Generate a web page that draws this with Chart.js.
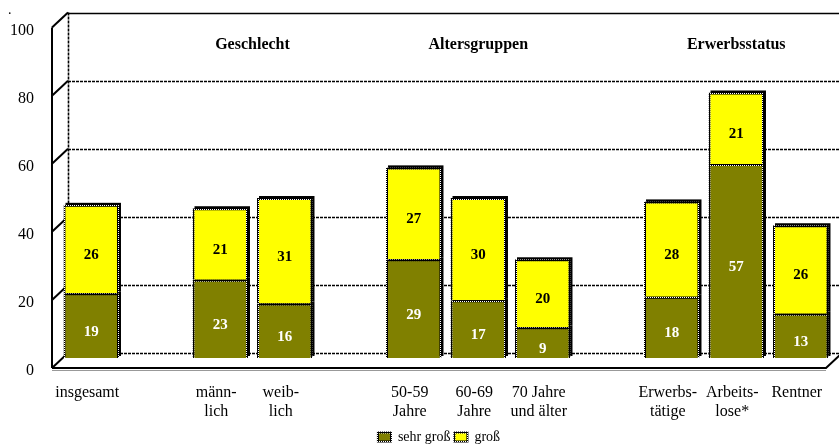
<!DOCTYPE html>
<html>
<head>
<meta charset="utf-8">
<script src="https://cdn.jsdelivr.net/npm/chart.js@4.4.1/dist/chart.umd.min.js"></script>
<style>
html,body{margin:0;padding:0;background:#fff;}
#wrap{width:839px;height:448px;}
</style>
</head>
<body>
<div id="wrap"><canvas id="c" width="839" height="448"></canvas></div>
<script>
// ---- data ----
const categories = ["insgesamt", "", ["männ-", "lich"], ["weib-", "lich"], "", ["50-59", "Jahre"], ["60-69", "Jahre"], ["70 Jahre", "und älter"], "", ["Erwerbs-", "tätige"], ["Arbeits-", "lose*"], "Rentner"];
const sehrGross = [19, null, 23, 16, null, 29, 17, 9, null, 18, 57, 13];
const gross = [26, null, 21, 31, null, 27, 30, 20, null, 28, 21, 26];
const seriesNames = ["sehr groß", "groß"];
const yTicks = [0, 20, 40, 60, 80, 100];
const groupTitles = ["Geschlecht", "Altersgruppen", "Erwerbsstatus"];
const groupCenters = [2.5, 6, 10];

// ---- styling helpers ----
function dotPattern() {
  const c = document.createElement('canvas');
  c.width = 2; c.height = 2;
  const x = c.getContext('2d');
  x.fillStyle = '#000'; x.fillRect(0, 0, 2, 2);
  x.fillStyle = '#fff'; x.fillRect(1, 1, 1, 1);
  return x.createPattern(c, 'repeat');
}
const dots = dotPattern();
const SERIF = '"Liberation Serif", "Times New Roman", serif';
const DEPTH_X = 16, DEPTH_Y = 15;   // back wall offset
const BAR_DX = 7, BAR_DY = -10;     // bars sit at mid depth

const frame3d = {
  id: 'frame3d',
  beforeDatasetsDraw(chart) {
    const ctx = chart.ctx, a = chart.chartArea, y = chart.scales.y;
    ctx.save();
    ctx.strokeStyle = '#000';
    ctx.lineWidth = 1.6;
    yTicks.forEach(v => {
      const py = Math.round(y.getPixelForValue(v)) - DEPTH_Y + 0.5;
      ctx.setLineDash(v === 100 ? [] : [3, 1]);
      ctx.beginPath();
      ctx.moveTo(a.left + DEPTH_X, py);
      ctx.lineTo(a.right + DEPTH_X + 20, py);
      ctx.stroke();
    });
    ctx.setLineDash([3, 1]);
    ctx.beginPath();
    ctx.moveTo(a.left + DEPTH_X + 0.5, y.getPixelForValue(100) - DEPTH_Y);
    ctx.lineTo(a.left + DEPTH_X + 0.5, y.getPixelForValue(0) - DEPTH_Y);
    ctx.stroke();
    ctx.setLineDash([]);
    ctx.lineWidth = 2;
    ctx.beginPath();
    ctx.moveTo(a.left, y.getPixelForValue(100));
    ctx.lineTo(a.left, y.getPixelForValue(0));
    ctx.stroke();
    yTicks.forEach(v => {
      const py = y.getPixelForValue(v);
      ctx.beginPath();
      ctx.moveTo(a.left, py);
      ctx.lineTo(a.left + DEPTH_X, py - DEPTH_Y);
      ctx.stroke();
    });
    const p0 = y.getPixelForValue(0);
    ctx.lineWidth = 2;
    ctx.beginPath();
    ctx.moveTo(a.left, p0);
    ctx.lineTo(a.right, p0);
    ctx.lineTo(a.right + DEPTH_X, p0 - DEPTH_Y);
    ctx.stroke();
    ctx.lineWidth = 1;
    ctx.strokeStyle = '#999';
    ctx.beginPath();
    ctx.moveTo(a.left, p0 + 2.5);
    ctx.lineTo(a.right, p0 + 2.5);
    ctx.stroke();
    ctx.fillStyle = '#000';
    ctx.font = '14px ' + SERIF;
    ctx.fillText('.', 8, 10);
    // bar side faces
    ctx.translate(BAR_DX, BAR_DY);
    ctx.fillStyle = '#000';
    chart.data.datasets.forEach((ds, i) => {
      chart.getDatasetMeta(i).data.forEach((el, j) => {
        if (ds.data[j] == null) return;
        const top = Math.min(el.y, el.base), bot = Math.max(el.y, el.base);
        ctx.fillRect(el.x - el.width / 2 + 2, top - 2, el.width, bot - top);
      });
    });
    ctx.restore();
    ctx.save();
    ctx.translate(BAR_DX, BAR_DY);
  },
  afterDatasetsDraw(chart) {
    const ctx = chart.ctx;
    ctx.restore();
    ctx.save();
    ctx.textAlign = 'center';
    ctx.textBaseline = 'middle';
    ctx.font = 'bold 15px ' + SERIF;
    chart.data.datasets.forEach((ds, i) => {
      chart.getDatasetMeta(i).data.forEach((el, j) => {
        const v = ds.data[j];
        if (v == null) return;
        ctx.fillStyle = i === 0 ? '#fff' : '#000';
        ctx.fillText(String(v), el.x + BAR_DX, (el.y + el.base) / 2 + BAR_DY + 6);
      });
    });
    const x = chart.scales.x, y = chart.scales.y;
    ctx.fillStyle = '#000';
    ctx.font = 'bold 16px ' + SERIF;
    groupTitles.forEach((t, k) => {
      ctx.fillText(t, x.getPixelForValue(groupCenters[k]) + BAR_DX, y.getPixelForValue(92) - 10);
    });
    ctx.restore();
  }
};

new Chart(document.getElementById('c'), {
  type: 'bar',
  data: {
    labels: categories,
    datasets: [
      { label: seriesNames[0], data: sehrGross, backgroundColor: '#808000', borderColor: dots, borderWidth: 2 },
      { label: seriesNames[1], data: gross, backgroundColor: '#ffff00', borderColor: dots, borderWidth: 2 }
    ]
  },
  options: {
    responsive: false,
    animation: false,
    layout: { padding: { top: 26, right: 13, left: 0, bottom: -6 } },
    datasets: { bar: { categoryPercentage: 1, barPercentage: 0.86 } },
    scales: {
      x: {
        stacked: true,
        grid: { display: false, drawTicks: false },
        border: { display: false },
        ticks: { color: '#000', font: { family: SERIF, size: 16, lineHeight: 1.15 }, padding: 16, labelOffset: 3, maxRotation: 0, autoSkip: false },
        afterFit(s) { s.height = 58; }
      },
      y: {
        stacked: true,
        min: 0, max: 100,
        afterBuildTicks(s) { s.ticks = yTicks.map(v => ({ value: v })); },
        grid: { display: false, drawTicks: false },
        border: { display: false },
        ticks: { color: '#000', font: { family: SERIF, size: 16 }, padding: 18, labelOffset: 3 },
        afterFit(s) { s.width = 52; }
      }
    },
    plugins: {
      legend: {
        position: 'bottom',
        fullSize: false,
        labels: { color: '#000', font: { family: SERIF, size: 14 }, boxWidth: 13, boxHeight: 9, padding: 4 }
      },
      tooltip: { enabled: false }
    }
  },
  plugins: [frame3d]
});
</script>
</body>
</html>
